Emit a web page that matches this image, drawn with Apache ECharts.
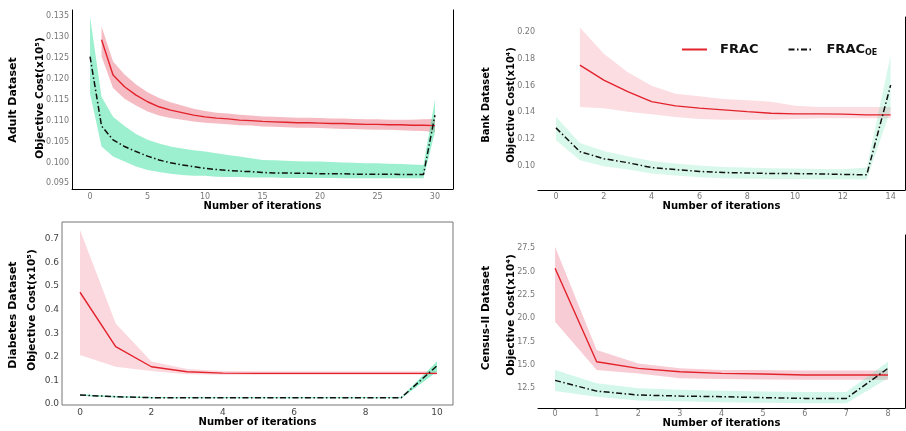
<!DOCTYPE html>
<html>
<head>
<meta charset="utf-8">
<script src="https://cdn.jsdelivr.net/npm/echarts@6/dist/echarts.min.js"></script>
<style>
  html, body { margin: 0; padding: 0; background: #fff; }
  #main { width: 906px; height: 431px; }
</style>
</head>
<body>
<div id="main"></div>
<script>
// ---- Adult dataset (FRAC starts at iteration 1) ----
var adultFracIter = [1,2,3,4,5,6,7,8,9,10,11,12,13,14,15,16,17,18,19,20,21,22,23,24,25,26,27,28,29,30];
var adultFrac     = [0.1293,0.1209,0.1181,0.1161,0.1145,0.1133,0.1125,0.1119,0.1113,0.1109,0.1106,0.1104,0.1101,0.1100,0.1098,0.1097,0.1096,0.1095,0.1095,0.1094,0.1093,0.1093,0.1092,0.1091,0.1091,0.1090,0.1090,0.1089,0.1089,0.1088];
var adultFracLo   = [0.1253,0.1178,0.1152,0.1136,0.1122,0.1112,0.1106,0.1102,0.1098,0.1095,0.1093,0.1091,0.1089,0.1088,0.1086,0.1085,0.1084,0.1083,0.1083,0.1082,0.1081,0.1080,0.1080,0.1079,0.1078,0.1078,0.1077,0.1076,0.1075,0.1073];
var adultFracHi   = [0.1325,0.1241,0.1210,0.1186,0.1168,0.1154,0.1144,0.1136,0.1128,0.1123,0.1119,0.1117,0.1114,0.1112,0.1110,0.1109,0.1108,0.1107,0.1107,0.1106,0.1105,0.1105,0.1104,0.1103,0.1103,0.1102,0.1102,0.1102,0.1103,0.1104];
var adultOeIter = [0,1,2,3,4,5,6,7,8,9,10,11,12,13,14,15,16,17,18,19,20,21,22,23,24,25,26,27,28,29,30];
var adultOe     = [0.1253,0.1087,0.1054,0.1038,0.1026,0.1015,0.1006,0.0999,0.0994,0.0990,0.0986,0.0983,0.0981,0.0979,0.0978,0.0976,0.0975,0.0975,0.0974,0.0974,0.0973,0.0973,0.0973,0.0972,0.0972,0.0972,0.0972,0.0971,0.0971,0.0971,0.1113];
var adultOeLo   = [0.1165,0.1038,0.1014,0.1002,0.0990,0.0982,0.0977,0.0973,0.0970,0.0968,0.0968,0.0966,0.0965,0.0965,0.0964,0.0964,0.0964,0.0963,0.0963,0.0963,0.0963,0.0963,0.0962,0.0962,0.0962,0.0962,0.0962,0.0962,0.0962,0.0962,0.1073];
var adultOeHi   = [0.1348,0.1157,0.1109,0.1087,0.1068,0.1054,0.1045,0.1038,0.1033,0.1029,0.1026,0.1022,0.1018,0.1014,0.1010,0.1006,0.1005,0.1004,0.1003,0.1002,0.1002,0.1001,0.1000,0.0999,0.0998,0.0998,0.0997,0.0996,0.0995,0.0994,0.1150];
var adultXTicks = [0,5,10,15,20,25,30];
var adultYTicks = [0.095,0.100,0.105,0.110,0.115,0.120,0.125,0.130,0.135];

// ---- Bank dataset ----
var bankFracIter = [1,2,3,4,5,6,7,8,9,10,11,12,13,14];
var bankFrac     = [0.1754,0.1642,0.1555,0.1480,0.1448,0.1431,0.1418,0.1405,0.1393,0.1388,0.1388,0.1386,0.1381,0.1381];
var bankFracLo   = [0.1440,0.1430,0.1405,0.1385,0.1365,0.1350,0.1345,0.1345,0.1345,0.1350,0.1355,0.1355,0.1355,0.1355];
var bankFracHi   = [0.2037,0.1840,0.1700,0.1600,0.1540,0.1520,0.1500,0.1490,0.1480,0.1450,0.1440,0.1440,0.1440,0.1440];
var bankOeIter = [0,1,2,3,4,5,6,7,8,9,10,11,12,13,14];
var bankOe     = [0.1283,0.1105,0.1052,0.1022,0.0985,0.0970,0.0956,0.0948,0.0945,0.0940,0.0940,0.0938,0.0934,0.0931,0.1604];
var bankOeLo   = [0.1190,0.1040,0.0995,0.0970,0.0940,0.0925,0.0912,0.0905,0.0902,0.0900,0.0899,0.0898,0.0897,0.0896,0.1420];
var bankOeHi   = [0.1366,0.1170,0.1110,0.1070,0.1035,0.1015,0.1000,0.0990,0.0985,0.0980,0.0978,0.0975,0.0972,0.0985,0.1830];
var bankXTicks = [0,2,4,6,8,10,12,14];
var bankYTicks = [0.10,0.12,0.14,0.16,0.18,0.20];

// ---- Diabetes dataset ----
var diabIter   = [0,1,2,3,4,5,6,7,8,9,10];
var diabFrac   = [0.474,0.243,0.158,0.137,0.131,0.130,0.130,0.130,0.130,0.130,0.130];
var diabFracLo = [0.208,0.158,0.140,0.126,0.124,0.124,0.124,0.124,0.124,0.124,0.124];
var diabFracHi = [0.738,0.342,0.180,0.148,0.140,0.139,0.139,0.139,0.139,0.139,0.139];
var diabOe     = [0.038,0.031,0.027,0.027,0.027,0.027,0.027,0.027,0.027,0.027,0.162];
var diabOeLo   = [0.035,0.028,0.024,0.024,0.024,0.024,0.024,0.024,0.024,0.024,0.137];
var diabOeHi   = [0.041,0.034,0.030,0.030,0.030,0.030,0.030,0.030,0.030,0.030,0.180];
var diabXTicks = [0,2,4,6,8,10];
var diabYTicks = [0.0,0.1,0.2,0.3,0.4,0.5,0.6,0.7];

// ---- Census-II dataset ----
var censIter   = [0,1,2,3,4,5,6,7,8];
var censFrac   = [25.36,15.35,14.64,14.28,14.10,14.03,13.92,13.92,13.92];
var censFracLo = [19.64,14.46,14.10,13.57,13.50,13.45,13.42,13.42,13.42];
var censFracHi = [27.67,16.60,15.17,14.64,14.46,14.46,14.42,14.42,14.42];
var censOe     = [13.35,12.20,11.78,11.67,11.60,11.50,11.42,11.42,14.64];
var censOeLo   = [12.20,11.60,11.20,11.10,11.00,10.95,10.90,10.90,13.57];
var censOeHi   = [14.46,13.03,12.50,12.35,12.25,12.15,12.10,12.10,15.35];
var censXTicks = [0,1,2,3,4,5,6,7,8];
var censYTicks = [12.5,15.0,17.5,20.0,22.5,25.0,27.5];

var FONT = 'DejaVu Sans';
var RED = '#e3232c';
var BLACK = '#111';

function pairs(xs, ys) {
    return xs.map(function (x, i) { return [x, ys[i]]; });
}

function band(xi, yi, xs, lo, hi, color) {
    return {
        type: 'custom',
        xAxisIndex: xi,
        yAxisIndex: yi,
        silent: true,
        z: 1,
        data: xs.map(function (x, i) { return [x, lo[i], hi[i]]; }),
        encode: {x: 0, y: [1, 2]},
        renderItem: function (params, api) {
            if (params.dataIndex !== 0) return;
            var top = [], bot = [];
            for (var i = 0; i < xs.length; i++) {
                top.push(api.coord([xs[i], hi[i]]));
                bot.unshift(api.coord([xs[i], lo[i]]));
            }
            return {type: 'polygon', shape: {points: top.concat(bot)}, style: {fill: color}};
        }
    };
}

function fracLine(xi, yi, xs, ys) {
    return {
        name: 'FRAC', type: 'line', xAxisIndex: xi, yAxisIndex: yi,
        symbol: 'none', z: 3, silent: true,
        lineStyle: {color: RED, width: 1.4},
        itemStyle: {color: RED},
        data: pairs(xs, ys)
    };
}

function oeLine(xi, yi, xs, ys) {
    return {
        name: 'FRAC_OE', type: 'line', xAxisIndex: xi, yAxisIndex: yi,
        symbol: 'none', z: 4, silent: true,
        lineStyle: {color: BLACK, width: 1.5, type: [6, 2.5, 1.5, 2.5]},
        itemStyle: {color: BLACK},
        data: pairs(xs, ys)
    };
}

function xAx(grid, min, max, ticks, size, color, gap, margin, line) {
    return {
        type: 'value', gridIndex: grid, min: min, max: max,
        name: 'Number of iterations', nameLocation: 'middle', nameGap: gap,
        nameTextStyle: {fontFamily: FONT, fontWeight: 'bold', fontSize: 10, color: '#000'},
        axisLine: {show: line, onZero: false, lineStyle: {color: '#000', width: 1}},
        axisTick: {show: false},
        splitLine: {show: false},
        axisLabel: {customValues: ticks, fontFamily: FONT, fontSize: size, color: color, margin: margin,
            formatter: function (v) { return String(v); }}
    };
}

function yAx(grid, min, max, ticks, dec, size, color, line) {
    return {
        type: 'value', gridIndex: grid, min: min, max: max, position: 'left',
        axisLine: {show: line, onZero: false, lineStyle: {color: '#000', width: 1}},
        axisTick: {show: false},
        splitLine: {show: false},
        axisLabel: {customValues: ticks, fontFamily: FONT, fontSize: size, color: color, margin: 3,
            formatter: function (v) { return v.toFixed(dec); }}
    };
}

function spine(grid, min, max) {
    return {
        type: 'value', gridIndex: grid, min: min, max: max, position: 'right',
        axisLine: {show: true, onZero: false, lineStyle: {color: '#000', width: 1}},
        axisTick: {show: false}, axisLabel: {show: false}, splitLine: {show: false}
    };
}

function vtext(x, y, txt, size) {
    return {
        type: 'text', x: x, y: y, rotation: Math.PI / 2,
        style: {text: txt, fontFamily: FONT, fontWeight: 'bold', fontSize: size, fill: '#000',
            align: 'center', verticalAlign: 'middle'}
    };
}

var myChart = echarts.init(document.getElementById('main'));
var option = {
    backgroundColor: '#fff',
    animation: false,
    grid: [
        {left: 72, top: 10, width: 381, height: 179},
        {left: 538, top: 17, width: 367, height: 173},
        {left: 62, top: 222, width: 391, height: 183, show: true, borderColor: '#777', borderWidth: 1},
        {left: 538, top: 235, width: 367, height: 173}
    ],
    legend: {
        left: 676, top: 38, itemWidth: 25, itemHeight: 14, itemGap: 29,
        data: ['FRAC', 'FRAC_OE'],
        itemStyle: {opacity: 0},
        formatter: function (name) { return name === 'FRAC_OE' ? 'FRAC{s|OE}' : name; },
        textStyle: {
            fontFamily: FONT, fontWeight: 'bold', fontSize: 13, color: '#111', padding: [0, 0, 0, 8],
            rich: {s: {fontFamily: FONT, fontWeight: 'bold', fontSize: 8, color: '#111', padding: [6, 0, 0, 0]}}
        }
    },
    xAxis: [
        xAx(0, -1.57, 31.57, adultXTicks, 8, '#777', 10, 4, true),
        xAx(1, -0.753, 14.6, bankXTicks, 8, '#777', 9, 3, true),
        xAx(2, -0.504, 10.45, diabXTicks, 9, '#444', 10, 3, false),
        xAx(3, -0.41, 8.41, censXTicks, 8, '#777', 8, 2, true)
    ],
    yAxis: [
        yAx(0, 0.09365, 0.13643, adultYTicks, 3, 8, '#777', true),
        spine(0, 0.09365, 0.13643),
        yAx(1, 0.0817, 0.2115, bankYTicks, 2, 8, '#777', false),
        spine(1, 0.0817, 0.2115),
        yAx(2, -0.0042, 0.772, diabYTicks, 1, 9, '#444', false),
        yAx(3, 10.39, 28.93, censYTicks, 1, 8, '#777', false),
        spine(3, 10.39, 28.93)
    ],
    graphic: [
        vtext(13, 100, 'Adult Dataset', 11),
        vtext(40, 98, 'Objective Cost(x10⁵)', 10.5),
        vtext(486, 105, 'Bank Dataset', 10),
        vtext(511, 105, 'Objective Cost(x10⁴)', 10),
        vtext(13, 315, 'Diabetes Dataset', 11),
        vtext(32, 310, 'Objective Cost(x10⁵)', 10.5),
        vtext(486, 318, 'Census-II Dataset', 10.5),
        vtext(511, 315, 'Objective Cost(x10⁴)', 10.5)
    ],
    series: [
        band(0, 0, adultFracIter, adultFracLo, adultFracHi, 'rgba(232,90,110,0.42)'),
        band(0, 0, adultOeIter, adultOeLo, adultOeHi, 'rgba(60,225,160,0.5)'),
        fracLine(0, 0, adultFracIter, adultFrac),
        oeLine(0, 0, adultOeIter, adultOe),

        band(1, 2, bankFracIter, bankFracLo, bankFracHi, 'rgba(240,120,140,0.25)'),
        band(1, 2, bankOeIter, bankOeLo, bankOeHi, 'rgba(80,225,170,0.22)'),
        fracLine(1, 2, bankFracIter, bankFrac),
        oeLine(1, 2, bankOeIter, bankOe),

        band(2, 4, diabIter, diabFracLo, diabFracHi, 'rgba(240,110,135,0.28)'),
        band(2, 4, diabIter, diabOeLo, diabOeHi, 'rgba(60,225,160,0.55)'),
        fracLine(2, 4, diabIter, diabFrac),
        oeLine(2, 4, diabIter, diabOe),

        band(3, 5, censIter, censFracLo, censFracHi, 'rgba(235,100,125,0.33)'),
        band(3, 5, censIter, censOeLo, censOeHi, 'rgba(80,225,170,0.25)'),
        fracLine(3, 5, censIter, censFrac),
        oeLine(3, 5, censIter, censOe)
    ]
};
myChart.setOption(option);
window.onresize = myChart.resize;
</script>
</body>
</html>
